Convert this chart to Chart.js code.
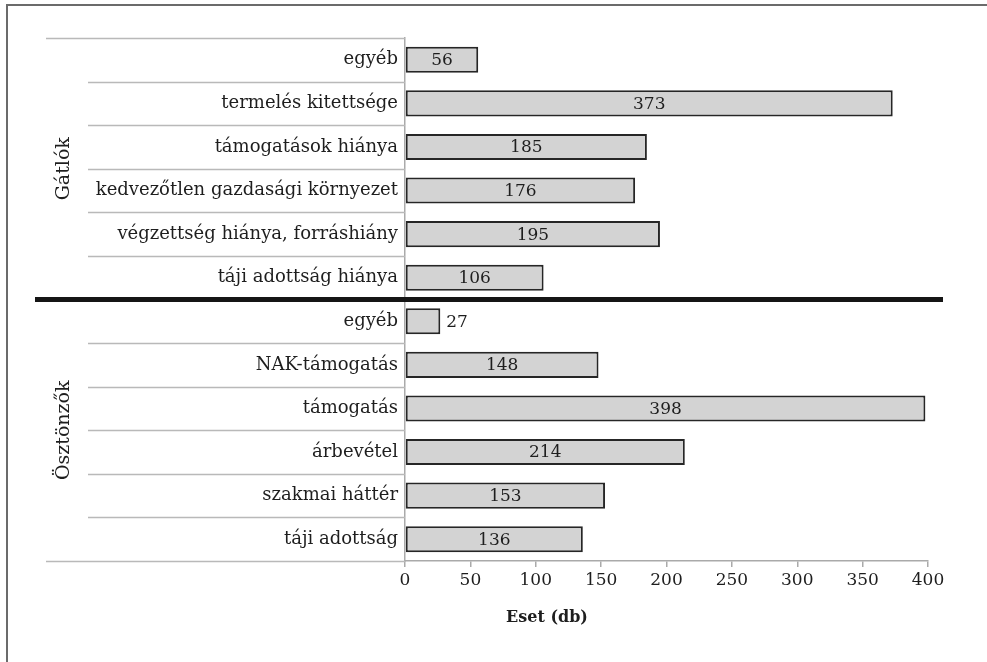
<!DOCTYPE html>
<html>
<head>
<meta charset="utf-8">
<script src="https://cdn.jsdelivr.net/npm/chart.js@4"></script>
<style>
  html, body { margin: 0; padding: 0; background: #fff; overflow: hidden; }
  #frame { position: absolute; left: 6px; top: 4px; width: 1100px; height: 800px; border: 2px solid #6b6b6b; }
  #c { position: absolute; left: 0; top: 0; }
</style>
</head>
<body>
<div id="frame"></div>
<canvas id="c" width="987" height="662"></canvas>
<script>
// ---- data ----
const groupNames = ["Gátlók", "Ösztönzők"];
const gatlokLabels = ["egyéb", "termelés kitettsége", "támogatások hiánya", "kedvezőtlen gazdasági környezet", "végzettség hiánya, forráshiány", "táji adottság hiánya"];
const gatlokValues = [56, 373, 185, 176, 195, 106];
const osztonzokLabels = ["egyéb", "NAK-támogatás", "támogatás", "árbevétel", "szakmai háttér", "táji adottság"];
const osztonzokValues = [27, 148, 398, 214, 153, 136];
const xTicks = [0, 50, 100, 150, 200, 250, 300, 350, 400];
const axisTitle = "Eset (db)";

const categories = gatlokLabels.concat(osztonzokLabels);
const values = gatlokValues.concat(osztonzokValues);
const groupSizes = [gatlokLabels.length, osztonzokLabels.length];

const FONT = "'DejaVu Serif', 'Liberation Serif', serif";

const decorPlugin = {
  id: 'decor',
  afterDraw(chart) {
    const ctx = chart.ctx;
    const area = chart.chartArea;
    const n = categories.length;
    const slot = (area.bottom - area.top) / n;
    const boundary = i => area.top + i * slot;
    ctx.save();
    ctx.strokeStyle = '#b9b9b9';
    ctx.lineWidth = 1.5;
    let idx = 0;
    const groupEdges = [0];
    groupSizes.forEach(s => { idx += s; groupEdges.push(idx); });
    for (let i = 0; i <= n; i++) {
      const yy = Math.round(boundary(i)) + 0.5;
      if (i === 0 || i === n) {
        ctx.beginPath(); ctx.moveTo(46, yy); ctx.lineTo(area.left, yy); ctx.stroke();
      } else if (!groupEdges.includes(i)) {
        ctx.beginPath(); ctx.moveTo(88, yy); ctx.lineTo(area.left, yy); ctx.stroke();
      }
    }
    ctx.strokeStyle = '#151515';
    ctx.lineWidth = 5;
    groupEdges.slice(1, -1).forEach(i => {
      const yy = boundary(i);
      ctx.beginPath(); ctx.moveTo(35, yy); ctx.lineTo(area.right + 15, yy); ctx.stroke();
    });
    ctx.fillStyle = '#1e1e1e';
    ctx.font = '19px ' + FONT;
    ctx.textAlign = 'center';
    ctx.textBaseline = 'middle';
    for (let g = 0; g < groupNames.length; g++) {
      const cy = (boundary(groupEdges[g]) + boundary(groupEdges[g + 1])) / 2;
      ctx.save();
      ctx.translate(64, cy);
      ctx.rotate(-Math.PI / 2);
      ctx.fillText(groupNames[g], 0, 0);
      ctx.restore();
    }
    ctx.font = 'bold 16px ' + FONT;
    ctx.fillStyle = '#1e1e1e';
    ctx.fillText(axisTitle, 547, 618);
    ctx.restore();
  },
  afterDatasetsDraw(chart) {
    const ctx = chart.ctx;
    const meta = chart.getDatasetMeta(0);
    ctx.save();
    ctx.font = '17px ' + FONT;
    ctx.fillStyle = '#1e1e1e';
    ctx.textBaseline = 'middle';
    meta.data.forEach((bar, i) => {
      const txt = String(values[i]);
      const w = ctx.measureText(txt).width;
      const left = Math.min(bar.x, bar.base);
      const right = Math.max(bar.x, bar.base);
      if (right - left > w + 22) {
        ctx.textAlign = 'center';
        ctx.fillText(txt, (left + right) / 2, bar.y + 1);
      } else {
        ctx.textAlign = 'left';
        ctx.fillText(txt, right + 6, bar.y + 1);
      }
    });
    ctx.restore();
  }
};

new Chart(document.getElementById('c'), {
  type: 'bar',
  data: {
    labels: categories,
    datasets: [{
      data: values,
      backgroundColor: '#d3d3d3',
      borderColor: '#262626',
      borderWidth: 2,
      borderSkipped: false,
      categoryPercentage: 1.0,
      barPercentage: 0.6
    }]
  },
  options: {
    indexAxis: 'y',
    responsive: false,
    animation: false,
    devicePixelRatio: 1,
    layout: { padding: { top: 38, right: 59, left: 0, bottom: 0 } },
    plugins: { legend: { display: false }, tooltip: { enabled: false } },
    scales: {
      x: {
        min: xTicks[0],
        max: xTicks[xTicks.length - 1],
        afterBuildTicks(scale) { scale.ticks = xTicks.map(v => ({ value: v })); },
        ticks: { font: { family: FONT, size: 17 }, color: '#1e1e1e', padding: 3 },
        grid: { drawOnChartArea: false, tickLength: 6, color: '#aaaaaa', lineWidth: 1.5 },
        border: { color: '#aaaaaa', width: 1.5 },
        afterFit(scale) { scale.height = 101; }
      },
      y: {
        ticks: { font: { family: FONT, size: 18 }, color: '#1e1e1e', padding: 7 },
        grid: { display: false, drawTicks: false },
        border: { color: '#aaaaaa', width: 1.5 },
        afterFit(scale) { scale.width = 405; }
      }
    }
  },
  plugins: [decorPlugin]
});
</script>
</body>
</html>
